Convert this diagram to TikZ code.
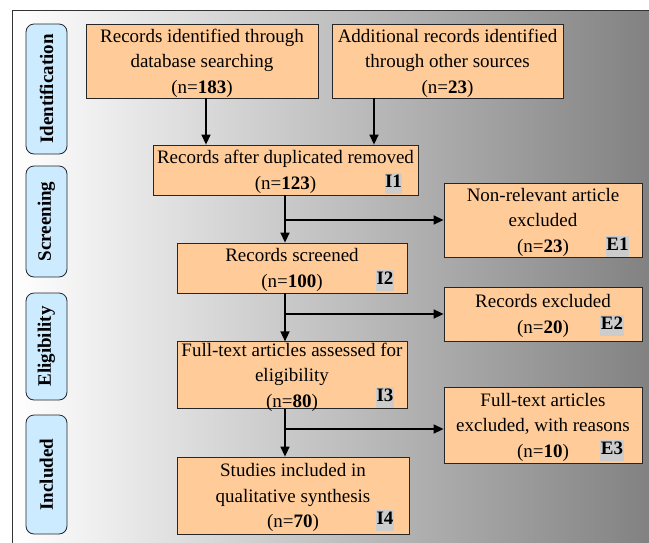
\documentclass[tikz,border=0pt]{standalone}
\usepackage{fontspec}
\setmainfont{Liberation Serif}
\usetikzlibrary{arrows.meta}
\definecolor{peach}{HTML}{FFCC99}
\definecolor{phaseblue}{HTML}{CCEBFF}
\definecolor{taggray}{HTML}{CCCCCC}

\begin{document}
\begin{tikzpicture}
  [x=1pt, y=-1pt,
   box/.style={draw=black!85, fill=peach, line width=0.8pt, align=center, inner sep=1pt,
     text depth=-3pt, font=\fontsize{19}{25.5}\selectfont},
   phase/.style={draw=black!85, fill=phaseblue, line width=0.8pt, rounded corners=8pt,
     rotate=90, minimum height=41pt, font=\bfseries\fontsize{19}{22}\selectfont},
   tag/.style={fill=taggray, inner xsep=0.5pt, inner ysep=0pt, text height=15pt,
     text depth=6pt, font=\bfseries\fontsize{19}{22}\selectfont},
   flow/.style={-{Triangle[length=10pt, width=9pt]}, line width=1.4pt}]
  \useasboundingbox (0,0) rectangle (649,542);
  \clip (0,0) rectangle (649,542);
  \shadedraw [left color=white, right color=black!50, draw=black!80, line width=1.2pt]
    (12.5,10.5) rectangle (660,560);

  % phases
  \foreach \name/\y/\h in {Identification/89/130, Screening/221.5/111,
      Eligibility/346.5/107, Included/474.5/119}{
    \node (ph\name) at (46.5,\y) [phase, minimum width=\h pt] {\name};
  }

  % flow boxes
  \node (dbrec) at (202,61) [box, minimum width=232pt, minimum height=74pt]
    {Records identified through\\database searching\\(n=\textbf{183})};
  \node (otherrec) at (447.5,61) [box, minimum width=231pt, minimum height=74pt]
    {Additional records identified\\through other sources\\(n=\textbf{23})};
  \node (dupl) at (285.5,170) [box, minimum width=265pt, minimum height=50pt]
    {Records after duplicated removed\\(n=\textbf{123})};
  \node (screen) at (292,268) [box, minimum width=230pt, minimum height=50pt]
    {Records screened\\(n=\textbf{100})};
  \node (fulltext) at (292,375) [box, minimum width=230pt, minimum height=66pt]
    {Full-text articles assessed for\\eligibility\\(n=\textbf{80})};
  \node (incl) at (293,495.5) [box, minimum width=232pt, minimum height=77pt]
    {Studies included in\\qualitative synthesis\\(n=\textbf{70})};
  \node (nonrel) at (543,220) [box, minimum width=198pt, minimum height=74pt]
    {Non-relevant article\\excluded\\(n=\textbf{23})};
  \node (recexcl) at (543,314) [box, minimum width=198pt, minimum height=54pt]
    {Records excluded\\(n=\textbf{20})};
  \node (ftexcl) at (543,425) [box, minimum width=198pt, minimum height=76pt]
    {Full-text articles\\excluded, with reasons\\(n=\textbf{10})};

  % tags
  \foreach \t/\x/\y in {I1/393.5/183, I2/385/280, I3/385/397, I4/385/520,
      E1/617.5/246, E2/612/325, E3/612/450}{
    \node (tag\t) at (\x,\y) [tag] {\t};
  }

  % connectors
  \coordinate (dbx) at (206,0);
  \coordinate (otx) at (374,0);
  \coordinate (spine) at (285,0);
  \coordinate (ftin) at ([yshift=-4pt]ftexcl.west);
  \draw [flow] (dbrec.south -| dbx) to (dupl.north -| dbx);
  \draw [flow] (otherrec.south -| otx) to (dupl.north -| otx);
  \draw [flow] (dupl.south -| spine) to (screen.north -| spine);
  \draw [flow] (nonrel.west -| spine) to (nonrel.west);
  \draw [flow] (screen.south -| spine) to (fulltext.north -| spine);
  \draw [flow] (recexcl.west -| spine) to (recexcl.west);
  \draw [flow] (fulltext.south -| spine) to (incl.north -| spine);
  \draw [flow] (ftin -| spine) to (ftin);
\end{tikzpicture}
\end{document}
